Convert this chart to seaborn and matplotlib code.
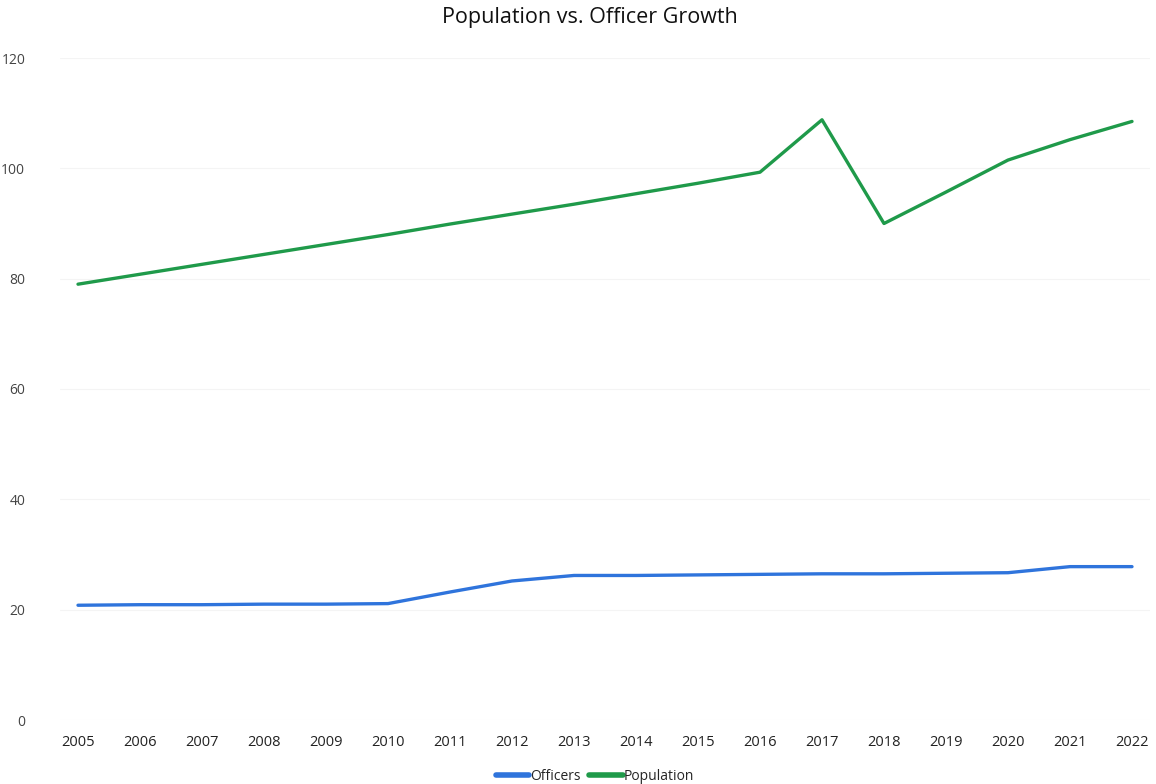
import matplotlib
matplotlib.use("Agg")
import matplotlib.pyplot as plt
import seaborn as sns
import pandas as pd
from matplotlib.lines import Line2D

years = list(range(2005, 2023))
officers = [20.8, 20.9, 20.9, 21.0, 21.0, 21.1, 23.2, 25.2, 26.2, 26.2, 26.3, 26.4, 26.5, 26.5, 26.6, 26.7, 27.8, 27.8]
population = [79.0, 80.8, 82.6, 84.4, 86.2, 88.0, 89.9, 91.7, 93.5, 95.4, 97.3, 99.3, 108.8, 90.0, 95.7, 101.5, 105.2, 108.5]
series_names = ["Officers", "Population"]
colors = ["#2f74dc", "#1f9a4a"]
y_ticks = [0, 20, 40, 60, 80, 100, 120]
title = "Population vs. Officer Growth"

df = pd.DataFrame({
    "Year": years * 2,
    "Value": officers + population,
    "Series": [series_names[0]] * len(years) + [series_names[1]] * len(years),
})

sns.set_theme(style="white")
plt.rcParams['font.family'] = ['Open Sans', 'DejaVu Sans']

fig = plt.figure(figsize=(11.56, 7.84), dpi=100)
ax = fig.add_axes([60 / 1156, 1 - 720 / 784, 1090 / 1156, (720 - 58) / 784])

sns.lineplot(data=df, x="Year", y="Value", hue="Series", palette=colors,
             linewidth=2.4, ax=ax, legend=False)

ax.set_xlim(2005 - 18 / 62, 2022 + 18 / 62)
ax.set_ylim(0, 120)
ax.set_yticks(y_ticks)
ax.set_yticklabels([str(v) for v in y_ticks], fontsize=10, color="#444444")
ax.set_xticks(years)
ax.set_xticklabels([str(y) for y in years], fontsize=10.5, color="#222222")
ax.tick_params(axis="x", pad=11, length=0)
ax.tick_params(axis="y", pad=25, length=0)
for lbl in ax.get_yticklabels():
    lbl.set_horizontalalignment("right")
ax.set_xlabel("")
ax.set_ylabel("")
for s in ax.spines.values():
    s.set_visible(False)
ax.grid(axis="y", color="#f4f4f4", linewidth=0.8)

fig.suptitle(title, x=590 / 1156, y=1 - 7 / 784, va="top", fontsize=15.5, color="#111111")

handles = [Line2D([0], [0], color=c, linewidth=4) for c in colors]
fig.legend(handles, series_names, loc="lower center", bbox_to_anchor=(595 / 1156, -0.016),
           ncol=2, frameon=False, fontsize=10, handlelength=2.4, handletextpad=0.1,
           columnspacing=0.6)

fig.savefig("out.png", dpi=100)
